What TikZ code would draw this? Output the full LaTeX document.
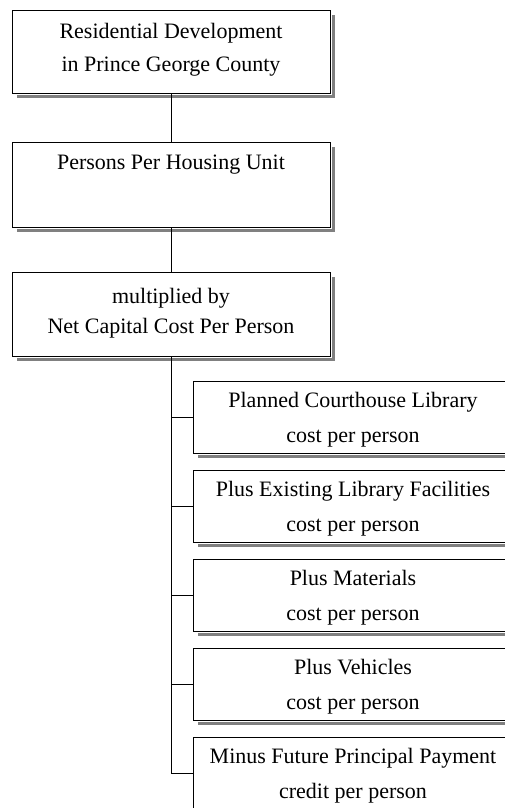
\documentclass[tikz,border=0pt]{standalone}
\usepackage{fontspec}
\setmainfont{Liberation Serif}
\usetikzlibrary{shadows}
\begin{document}
\begin{tikzpicture}[x=1pt,y=1pt,
  box/.style={rectangle, draw=black, line width=1.3pt, fill=white, anchor=north west,
    inner sep=0pt,
    drop shadow={shadow xshift=4.5pt, shadow yshift=-4.5pt, fill=black!50, opacity=1},
    preaction={draw=white, line width=3.2pt}},
  lbox/.style={box, minimum width=318pt},
  rbox/.style={box, minimum width=320pt, minimum height=72pt},
  txt/.style={anchor=base, inner sep=0pt, font=\fontsize{22}{26}\selectfont},
  conn/.style={draw=black, line width=1pt}]
\useasboundingbox (0,0) rectangle (504,-808);
% left column
\node[lbox, minimum height=83pt] (a) at (12,-10) {};
\node[lbox, minimum height=85pt] (b) at (12,-142) {};
\node[lbox, minimum height=84pt] (c) at (12,-272) {};
\node[txt] (a1) at (171,-38) {Residential Development};
\node[txt] (a2) at (171,-71.5) {in Prince George County};
\node[txt] (b1) at (171,-169) {Persons Per Housing Unit};
\node[txt] (c1) at (171,-303) {multiplied by};
\node[txt] (c2) at (171,-333) {Net Capital Cost Per Person};
% right column
\node[rbox] (r1) at (193,-381) {};
\node[rbox] (r2) at (193,-470) {};
\node[rbox] (r3) at (193,-559) {};
\node[rbox] (r4) at (193,-648) {};
\node[rbox] (r5) at (193,-737) {};
\node[txt] (r1a) at (353,-407) {Planned Courthouse Library};
\node[txt] (r1b) at (353,-442) {cost per person};
\node[txt] (r2a) at (353,-496) {Plus Existing Library Facilities};
\node[txt] (r2b) at (353,-531) {cost per person};
\node[txt] (r3a) at (353,-585) {Plus Materials};
\node[txt] (r3b) at (353,-620) {cost per person};
\node[txt] (r4a) at (353,-674) {Plus Vehicles};
\node[txt] (r4b) at (353,-709) {cost per person};
\node[txt] (r5a) at (353,-763) {Minus Future Principal Payment};
\node[txt] (r5b) at (353,-798) {credit per person};
% connectors
\coordinate (spine) at (171,0);
\draw[conn] (a.south -| spine) -- (b.north -| spine);
\draw[conn] (b.south -| spine) -- (c.north -| spine);
\draw[conn] (c.south -| spine) -- (r5.west -| spine);
\foreach \r in {r1,r2,r3,r4,r5} \draw[conn] (\r.west -| spine) -- (\r.west);
\end{tikzpicture}
\end{document}
